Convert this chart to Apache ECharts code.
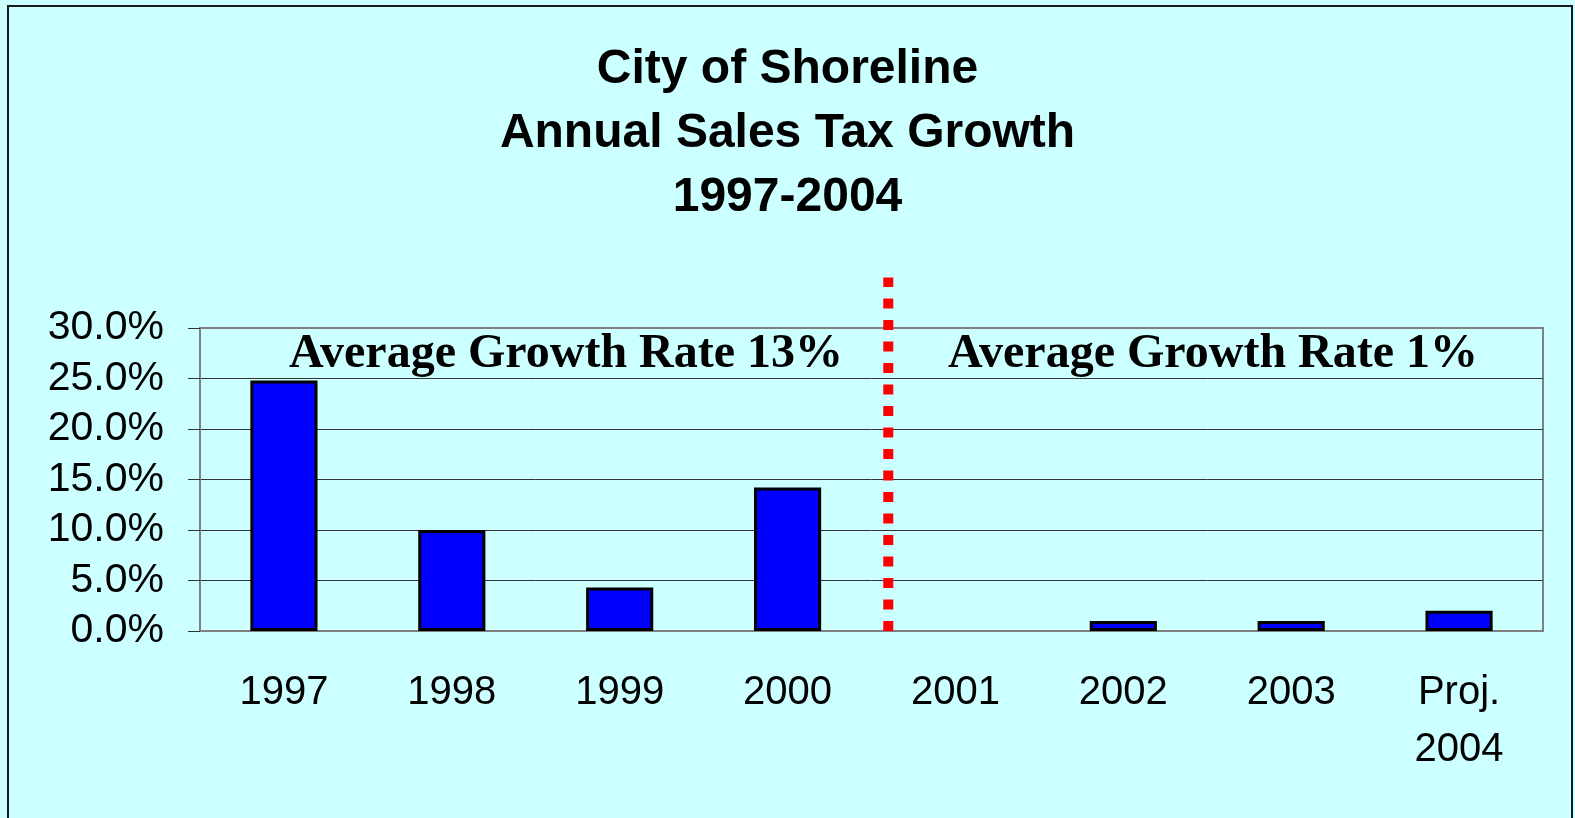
<!DOCTYPE html>
<html>
<head>
<meta charset="utf-8">
<title>City of Shoreline Annual Sales Tax Growth</title>
<script src="https://cdn.jsdelivr.net/npm/echarts@6/dist/echarts.min.js"></script>
<style>
  html, body { margin: 0; padding: 0; background: #ccffff; }
  #main { width: 1575px; height: 818px; }
</style>
</head>
<body>
<div id="main"></div>
<script>
  // categories and yearly growth (%)
  var years = ['1997', '1998', '1999', '2000', '2001', '2002', '2003', 'Proj.\n2004'];
  var growth = [24.8, 10.0, 4.3, 14.2, 0.0, 1.0, 1.0, 2.0];

  // y ticks
  var yMin = 0;
  var yMax = 30;
  var yStep = 5;

  // divider between the two periods (category units from the left edge)
  var dividerAt = 4.1;
  var dividerTop = 35;

  var notes = ['Average Growth Rate 13%', 'Average Growth Rate 1%'];

  var myChart = echarts.init(document.getElementById('main'));

  // a zero bar has no visible outline in the original
  var barData = growth.map(function (v) {
    return v === 0 ? { value: v, itemStyle: { borderWidth: 0 } } : v;
  });

  var noteFont = 'bold 48px "Liberation Serif", "Times New Roman", serif';

  var option = {
    backgroundColor: '#ccffff',
    animation: false,
    title: {
      text: 'City of Shoreline\nAnnual Sales Tax Growth\n1997-2004',
      left: 'center',
      top: 33,
      textStyle: {
        fontFamily: 'Liberation Sans, Arial, sans-serif',
        fontWeight: 'bold',
        fontSize: 48,
        lineHeight: 64,
        color: '#000'
      }
    },
    grid: {
      left: 200,
      top: 328,
      right: 32,
      bottom: 187,
      show: true,
      backgroundColor: 'transparent',
      borderColor: '#808080',
      borderWidth: 2
    },
    xAxis: [{
      type: 'category',
      data: years,
      axisLine: { lineStyle: { color: '#808080', width: 2 } },
      axisTick: { length: 12, lineStyle: { color: '#333', width: 1 } },
      axisLabel: {
        margin: 33,
        fontFamily: 'Liberation Sans, Arial, sans-serif',
        fontSize: 40,
        lineHeight: 57,
        color: '#000',
        interval: 0
      }
    }, {
      // hidden helper axis for placing the divider
      type: 'value',
      min: 0,
      max: years.length,
      show: false
    }],
    yAxis: {
      type: 'value',
      min: yMin,
      max: yMax,
      interval: yStep,
      axisLine: { show: true, lineStyle: { color: '#808080', width: 2 } },
      axisTick: { show: true, length: 12, lineStyle: { color: '#333', width: 1 } },
      axisLabel: {
        margin: 36,
        fontFamily: 'Liberation Sans, Arial, sans-serif',
        fontSize: 41,
        color: '#000',
        formatter: function (v) { return v.toFixed(1) + '%'; }
      },
      splitLine: {
        show: true,
        showMinLine: false,
        showMaxLine: false,
        lineStyle: { color: '#333', width: 1 }
      }
    },
    graphic: [{
      type: 'rect',
      silent: true,
      shape: { x: 8, y: 6, width: 1564, height: 840 },
      style: { fill: 'none', stroke: '#1a1a1a', lineWidth: 2 }
    }, {
      type: 'text',
      silent: true,
      x: 566,
      y: 355,
      style: {
        text: notes[0],
        textAlign: 'center',
        textVerticalAlign: 'middle',
        font: noteFont,
        fill: '#000'
      }
    }, {
      type: 'text',
      silent: true,
      x: 1213,
      y: 355,
      style: {
        text: notes[1],
        textAlign: 'center',
        textVerticalAlign: 'middle',
        font: noteFont,
        fill: '#000'
      }
    }],
    series: [{
      type: 'bar',
      data: barData,
      barWidth: '40%',
      itemStyle: {
        color: '#0000ff',
        borderColor: '#000',
        borderWidth: 3
      },
      silent: true
    }, {
      type: 'line',
      xAxisIndex: 1,
      yAxisIndex: 0,
      data: [[dividerAt, 0], [dividerAt, dividerTop]],
      symbol: 'none',
      clip: false,
      silent: true,
      lineStyle: { color: '#ff0000', width: 10, type: [10, 11.5], cap: 'butt' },
      z: 5
    }]
  };

  myChart.setOption(option);
</script>
</body>
</html>
